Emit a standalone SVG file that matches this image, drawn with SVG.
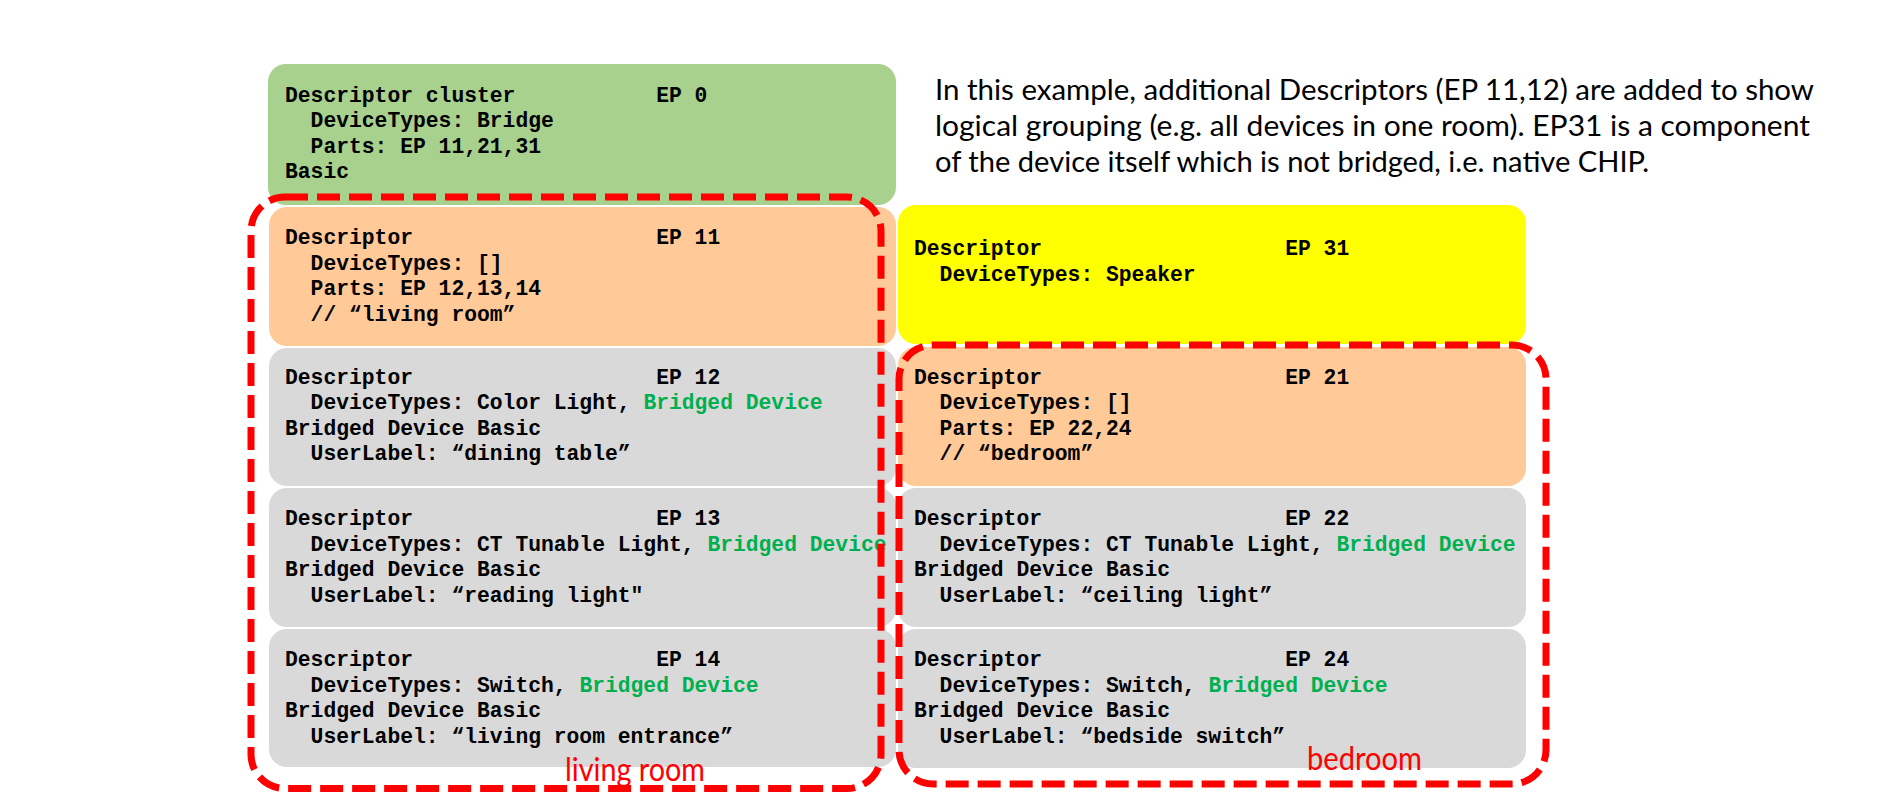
<svg xmlns="http://www.w3.org/2000/svg" width="1890" height="794" viewBox="0 0 1890 794">
<style>
.box{stroke:none}
.g0{fill:#A9D18E}
.or{fill:#FFCA98}
.gr{fill:#D9D9D9}
.ye{fill:#FFFF00}
.m{font-family:"Liberation Mono","Courier New",monospace;font-weight:bold;font-size:21.33px;fill:#000}
.bd{fill:#00B050}
.note{font-family:Lato,"Liberation Sans",sans-serif;font-size:29.5px;fill:#000}
.lbl{font-family:Lato,"Liberation Sans",sans-serif;font-size:32px;fill:#FF0000}
.grp{fill:none;stroke:#FF0000;stroke-width:7;stroke-dasharray:23 9}
</style>
<rect width="1890" height="794" fill="#FFFFFF"/>

<g id="ep0">
<rect class="box g0" x="268" y="64" width="628" height="141" rx="18"/>
<text class="m" x="285" y="101.5">Descriptor cluster</text>
<text class="m" x="656.2" y="101.5">EP 0</text>
<text class="m" x="310.6" y="127">DeviceTypes: Bridge</text>
<text class="m" x="310.6" y="152.5">Parts: EP 11,21,31</text>
<text class="m" x="285" y="178">Basic</text>
</g>

<g id="ep11">
<rect class="box or" x="269" y="207" width="627" height="139" rx="18"/>
<text class="m" x="285" y="244">Descriptor</text>
<text class="m" x="656.2" y="244">EP 11</text>
<text class="m" x="310.6" y="269.5">DeviceTypes: []</text>
<text class="m" x="310.6" y="295">Parts: EP 12,13,14</text>
<text class="m" x="310.6" y="320.5">// “living room”</text>
</g>

<g id="ep12">
<rect class="box gr" x="269" y="348" width="627" height="138" rx="18"/>
<text class="m" x="285" y="383.5">Descriptor</text>
<text class="m" x="656.2" y="383.5">EP 12</text>
<text class="m" x="310.6" y="409">DeviceTypes: Color Light, <tspan class="bd">Bridged Device</tspan></text>
<text class="m" x="285" y="434.5">Bridged Device Basic</text>
<text class="m" x="310.6" y="460">UserLabel: “dining table”</text>
</g>

<g id="ep13">
<rect class="box gr" x="269" y="488" width="627" height="139" rx="18"/>
<text class="m" x="285" y="525">Descriptor</text>
<text class="m" x="656.2" y="525">EP 13</text>
<text class="m" x="310.6" y="550.5">DeviceTypes: CT Tunable Light, <tspan class="bd">Bridged Device</tspan></text>
<text class="m" x="285" y="576">Bridged Device Basic</text>
<text class="m" x="310.6" y="601.5">UserLabel: “reading light"</text>
</g>

<g id="ep14">
<rect class="box gr" x="269" y="629" width="627" height="138" rx="18"/>
<text class="m" x="285" y="666">Descriptor</text>
<text class="m" x="656.2" y="666">EP 14</text>
<text class="m" x="310.6" y="691.5">DeviceTypes: Switch, <tspan class="bd">Bridged Device</tspan></text>
<text class="m" x="285" y="717">Bridged Device Basic</text>
<text class="m" x="310.6" y="742.5">UserLabel: “living room entrance”</text>
</g>

<g id="ep31">
<rect class="box ye" x="898" y="205" width="628" height="139" rx="18"/>
<text class="m" x="914" y="255">Descriptor</text>
<text class="m" x="1285.2" y="255">EP 31</text>
<text class="m" x="939.6" y="280.5">DeviceTypes: Speaker</text>
</g>

<g id="ep21">
<rect class="box or" x="898" y="347" width="628" height="139" rx="18"/>
<text class="m" x="914" y="383.5">Descriptor</text>
<text class="m" x="1285.2" y="383.5">EP 21</text>
<text class="m" x="939.6" y="409">DeviceTypes: []</text>
<text class="m" x="939.6" y="434.5">Parts: EP 22,24</text>
<text class="m" x="939.6" y="460">// “bedroom”</text>
</g>

<g id="ep22">
<rect class="box gr" x="898" y="488" width="628" height="139" rx="18"/>
<text class="m" x="914" y="525">Descriptor</text>
<text class="m" x="1285.2" y="525">EP 22</text>
<text class="m" x="939.6" y="550.5">DeviceTypes: CT Tunable Light, <tspan class="bd">Bridged Device</tspan></text>
<text class="m" x="914" y="576">Bridged Device Basic</text>
<text class="m" x="939.6" y="601.5">UserLabel: “ceiling light”</text>
</g>

<g id="ep24">
<rect class="box gr" x="898" y="629" width="628" height="139" rx="18"/>
<text class="m" x="914" y="666">Descriptor</text>
<text class="m" x="1285.2" y="666">EP 24</text>
<text class="m" x="939.6" y="691.5">DeviceTypes: Switch, <tspan class="bd">Bridged Device</tspan></text>
<text class="m" x="914" y="717">Bridged Device Basic</text>
<text class="m" x="939.6" y="742.5">UserLabel: “bedside switch”</text>
</g>

<g id="groups">
<g id="living-room">
<rect class="grp" x="251" y="197" width="630" height="591.5" rx="34"/>
<text class="lbl" x="565" y="781" textLength="140" lengthAdjust="spacingAndGlyphs">living room</text>
</g>
<g id="bedroom">
<rect class="grp" x="899" y="345" width="647" height="439" rx="34"/>
<text class="lbl" x="1307" y="770" textLength="115" lengthAdjust="spacingAndGlyphs">bedroom</text>
</g>
</g>

<g id="note">
<text class="note" x="935" y="100" textLength="879" lengthAdjust="spacingAndGlyphs">In this example, additional Descriptors (EP 11,12) are added to show</text>
<text class="note" x="935" y="136" textLength="875" lengthAdjust="spacingAndGlyphs">logical grouping (e.g. all devices in one room). EP31 is a component</text>
<text class="note" x="935" y="172" textLength="714" lengthAdjust="spacingAndGlyphs">of the device itself which is not bridged, i.e. native CHIP.</text>
</g>
</svg>
